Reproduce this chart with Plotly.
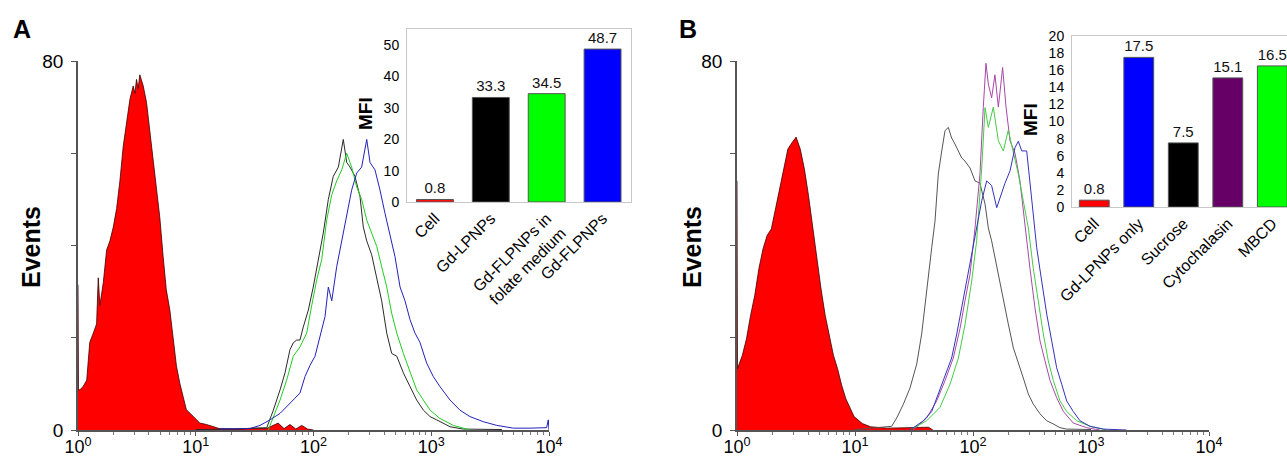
import plotly.graph_objects as go

W, H = 1287, 458
FONT = "Arial, 'Liberation Sans', sans-serif"

# ---------------- Panel A histograms (x in decades: log10 fluorescence) ----------------
a_red_log = [0.0, 0.004, 0.017, 0.045, 0.074, 0.10, 0.13, 0.158, 0.172, 0.186, 0.215, 0.243, 0.271, 0.30,
             0.328, 0.356, 0.384, 0.412, 0.441, 0.469, 0.483, 0.497, 0.511, 0.525, 0.54, 0.554, 0.582,
             0.61, 0.638, 0.667, 0.695, 0.723, 0.75, 0.78, 0.81, 0.836, 0.864, 0.89, 0.92, 0.977,
             1.034, 1.09, 1.147, 1.2, 1.35, 1.5, 1.6, 1.7, 1.75, 1.8, 1.85, 1.9, 1.95, 2.0]
a_red_cnt = [31.5, 8.7, 8.7, 9.5, 10.8, 19, 21, 23, 33, 27, 32, 39, 41, 44,
             48, 54, 61.5, 66, 71.7, 74.6, 73, 76, 74, 77, 75.5, 74.6, 71,
             64.5, 58.6, 51.4, 46, 37.6, 30.4, 26, 19, 13.9, 10.2, 7.4, 4.4, 3,
             1.5, 1.2, 0.8, 0.3, 0.2, 0.4, 0.3, 1.5, 0.3, 1.2, 0.2, 1.0, 0.2, 0]

a_blk_log = [1.0, 1.3, 1.603, 1.659, 1.716, 1.758, 1.80, 1.828, 1.857, 1.885, 1.913, 1.956, 1.998, 2.041,
             2.083, 2.126, 2.168, 2.211, 2.253, 2.282, 2.31, 2.352, 2.395, 2.423, 2.452, 2.494, 2.537,
             2.579, 2.622, 2.664, 2.707, 2.763, 2.82, 2.876, 2.933, 2.99, 3.046, 3.16, 3.272, 3.6]
a_blk_cnt = [0.1, 0.2, 0.5, 4.3, 8.7, 12.4, 17.4, 18.9, 19.5, 19.5, 22.3, 26, 31, 36.9,
             42.7, 50, 55, 57, 63, 58, 57, 55, 50.6, 44, 41, 38, 33,
             28, 21, 16.6, 16, 12.4, 9.4, 6.5, 4.3, 2.9, 2.2, 0.7, 0.2, 0.1]

a_grn_log = [1.616, 1.659, 1.716, 1.772, 1.828, 1.885, 1.942, 1.985, 2.027, 2.07, 2.112, 2.155, 2.197,
             2.24, 2.282, 2.324, 2.367, 2.409, 2.452, 2.494, 2.537, 2.579, 2.622, 2.664, 2.707, 2.763,
             2.82, 2.876, 2.933, 2.99, 3.074, 3.187, 3.329]
a_grn_cnt = [0, 2.9, 6.5, 10.8, 16, 18, 21, 27, 32.5, 37, 45.5, 51, 54,
             56.4, 60, 57, 52.7, 50, 45.5, 42.7, 39.8, 35.4, 31, 25.3, 21, 16.6,
             12.4, 8.7, 6.5, 4.3, 2.5, 1, 0]

a_blu_log = [1.2, 1.461, 1.546, 1.631, 1.716, 1.772, 1.828, 1.885, 1.928, 1.97, 2.013, 2.055, 2.098, 2.126,
             2.155, 2.197, 2.24, 2.282, 2.324, 2.367, 2.409, 2.452, 2.48, 2.522, 2.565, 2.607, 2.65,
             2.692, 2.735, 2.777, 2.82, 2.862, 2.904, 2.961, 3.017, 3.074, 3.159, 3.244, 3.329, 3.442,
             3.556, 3.697, 3.839, 3.98, 3.994, 4.0]
a_blu_cnt = [0.2, 0.3, 1, 2.2, 3.6, 5, 6.5, 8, 11.6, 14, 16, 20, 24.6, 31,
             28, 35.4, 41, 47, 52, 55.7, 57, 63, 58, 56.4, 52, 47, 42,
             37.6, 31, 28, 23.9, 21, 19, 14.5, 11.6, 9.4, 6.5, 4.3, 2.9, 1.8,
             1, 0.4, 0.4, 0.5, 2.2, 0]

# ---------------- Panel B histograms ----------------
b_red_log = [0.0, 0.004, 0.0456, 0.0806, 0.1157, 0.1507, 0.1858, 0.2209, 0.2559, 0.291, 0.326, 0.361,
             0.396, 0.431, 0.466, 0.501, 0.536, 0.571, 0.606, 0.642, 0.677, 0.712, 0.747, 0.782, 0.817,
             0.852, 0.887, 0.922, 0.957, 0.992, 1.062, 1.132, 1.273, 1.45, 1.623, 1.66]
b_red_cnt = [54, 13.3, 16.2, 19.8, 24.9, 29.2, 35, 39.3, 42.2, 43.6, 47.9, 52.3,
             56.6, 60.9, 62.3, 63.5, 60.9, 56.6, 50.8, 43.6, 37.1, 30.6, 24.9, 20.5, 16.2,
             13.3, 9.7, 6.8, 4.7, 2.9, 1.4, 0.7, 0.4, 0.5, 0.6, 0]

b_blk_log = [1.0, 1.2, 1.311, 1.353, 1.41, 1.466, 1.523, 1.565, 1.593, 1.621, 1.65, 1.678, 1.706, 1.735,
             1.763, 1.791, 1.819, 1.847, 1.876, 1.904, 1.932, 1.975, 2.017, 2.059, 2.102, 2.13, 2.158,
             2.186, 2.215, 2.257, 2.299, 2.342, 2.384, 2.426, 2.469, 2.511, 2.568, 2.625, 2.681, 2.737,
             2.794, 3.0]
b_blk_cnt = [0.1, 0.5, 0.8, 2.6, 5.6, 9.1, 14.3, 20.8, 27.3, 33.8, 39.5, 45.3, 55.5, 60.5,
             64.9, 65.6, 63.3, 62, 60.5, 59, 58.3, 56.8, 54, 53.5, 49, 43.8, 41,
             37.3, 33.8, 28, 23, 17.8, 14.3, 11.3, 7.8, 5.6, 3.5, 2, 1.3, 0.5,
             0.2, 0.1]

b_blu_log = [1.466, 1.579, 1.65, 1.706, 1.763, 1.819, 1.862, 1.904, 1.947, 1.989, 2.031, 2.074, 2.116,
             2.158, 2.201, 2.229, 2.271, 2.314, 2.356, 2.384, 2.413, 2.455, 2.483, 2.511, 2.54, 2.582,
             2.625, 2.667, 2.709, 2.752, 2.794, 2.85, 2.907, 2.992, 3.104, 3.3]
b_blu_cnt = [0, 2, 4, 7.8, 12, 15.6, 20.8, 26.5, 32.3, 37.3, 43.8, 49.7, 54,
             53, 48.2, 50.4, 53.5, 56.2, 61.2, 62.6, 60.5, 60.5, 54, 46.8, 39.5, 32.3,
             25.1, 19.3, 13.5, 9.9, 6.3, 4, 2, 0.8, 0.2, 0]

b_mag_log = [1.494, 1.607, 1.692, 1.763, 1.833, 1.89, 1.932, 1.975, 2.017, 2.059, 2.087, 2.11, 2.13,
             2.158, 2.186, 2.215, 2.251, 2.28, 2.314, 2.356, 2.398, 2.441, 2.483, 2.525, 2.568, 2.61,
             2.653, 2.709, 2.766, 2.85, 2.964, 3.076]
b_mag_cnt = [0, 2.6, 6.3, 10.7, 15.6, 22, 28, 33.8, 43.8, 55.5, 69.9, 79.5, 75,
             72, 77, 70, 78.6, 70, 62.7, 60, 54, 43.8, 35, 26.5, 19.3, 15,
             10.7, 7, 4, 1.5, 0.5, 0]

b_grn_log = [1.466, 1.607, 1.72, 1.805, 1.876, 1.932, 1.989, 2.031, 2.074, 2.102, 2.13, 2.172, 2.215,
             2.257, 2.299, 2.342, 2.384, 2.426, 2.469, 2.511, 2.554, 2.596, 2.638, 2.681, 2.737, 2.794,
             2.879, 2.992, 3.133]
b_grn_cnt = [0, 2, 4.9, 9.9, 15.6, 22.8, 32.3, 41, 56.8, 69.9, 65.6, 70, 62.7,
             60.5, 65, 60, 55.5, 49.7, 43.8, 35, 27.8, 20.8, 15, 10.7, 6.3, 4,
             2, 0.8, 0]

# ---------------- Inset bar charts ----------------
a_cats = ["Cell", "Gd-LPNPs", "Gd-FLPNPs in<br>folate medium", "Gd-FLPNPs"]
a_mfi = [0.8, 33.3, 34.5, 48.7]
a_colors = ["#ff1010", "#000000", "#00ff00", "#0000ff"]

b_cats = ["Cell", "Gd-LPNPs only", "Sucrose", "Cytochalasin", "MBCD"]
b_mfi = [0.8, 17.5, 7.5, 15.1, 16.5]
b_colors = ["#ff0000", "#0000ff", "#000000", "#660066", "#00ff00"]

hist_ticks = [1, 10, 100, 1000, 10000]
hist_ticktext = ["10<sup>0</sup>", "10<sup>1</sup>", "10<sup>2</sup>", "10<sup>3</sup>", "10<sup>4</sup>"]
count_ticks = [0, 80]
count_minor = [20, 40, 60]


def fl(v):
    return [10 ** x for x in v]


fig = go.Figure()

# Panel A traces
fig.add_trace(go.Scatter(x=fl(a_red_log), y=a_red_cnt, mode="lines", fill="tozeroy",
                         fillcolor="#ff0000", line=dict(color="#3a0000", width=0.8),
                         xaxis="x", yaxis="y", showlegend=False))
fig.add_trace(go.Scatter(x=fl(a_blk_log), y=a_blk_cnt, mode="lines",
                         line=dict(color="#2a2a2a", width=1), xaxis="x", yaxis="y", showlegend=False))
fig.add_trace(go.Scatter(x=fl(a_grn_log), y=a_grn_cnt, mode="lines",
                         line=dict(color="#22cc22", width=1), xaxis="x", yaxis="y", showlegend=False))
fig.add_trace(go.Scatter(x=fl(a_blu_log), y=a_blu_cnt, mode="lines",
                         line=dict(color="#2222bb", width=1), xaxis="x", yaxis="y", showlegend=False))

# Panel A inset
fig.add_trace(go.Bar(x=a_cats, y=a_mfi, marker=dict(color=a_colors, line=dict(color="#555555", width=1)),
                     width=0.66, text=a_mfi, texttemplate="%{y:.1f}", textposition="outside",
                     textfont=dict(size=15, color="#111111", family=FONT), cliponaxis=False,
                     xaxis="x2", yaxis="y2", showlegend=False))

# Panel B traces
fig.add_trace(go.Scatter(x=fl(b_red_log), y=b_red_cnt, mode="lines", fill="tozeroy",
                         fillcolor="#ff0000", line=dict(color="#3a0000", width=0.8),
                         xaxis="x3", yaxis="y3", showlegend=False))
fig.add_trace(go.Scatter(x=fl(b_blk_log), y=b_blk_cnt, mode="lines",
                         line=dict(color="#555555", width=1), xaxis="x3", yaxis="y3", showlegend=False))
fig.add_trace(go.Scatter(x=fl(b_mag_log), y=b_mag_cnt, mode="lines",
                         line=dict(color="#a848a8", width=1), xaxis="x3", yaxis="y3", showlegend=False))
fig.add_trace(go.Scatter(x=fl(b_grn_log), y=b_grn_cnt, mode="lines",
                         line=dict(color="#44cc44", width=1), xaxis="x3", yaxis="y3", showlegend=False))
fig.add_trace(go.Scatter(x=fl(b_blu_log), y=b_blu_cnt, mode="lines",
                         line=dict(color="#3333bb", width=1), xaxis="x3", yaxis="y3", showlegend=False))

# Panel B inset
fig.add_trace(go.Bar(x=b_cats, y=b_mfi, marker=dict(color=b_colors, line=dict(color="#555555", width=1)),
                     width=0.67, text=b_mfi, texttemplate="%{y:.1f}", textposition="outside",
                     textfont=dict(size=15, color="#111111", family=FONT), cliponaxis=False,
                     xaxis="x4", yaxis="y4", showlegend=False))

minor_vals = [m * 10 ** d for d in range(4) for m in range(2, 10)]


def hist_x(domain, anchor):
    return dict(type="log", range=[0, 4], domain=domain, anchor=anchor, automargin=False,
                showline=True, linecolor="#555555", linewidth=1.5,
                ticks="outside", ticklen=4, tickcolor="#555555", tickwidth=1,
                tickmode="array", tickvals=hist_ticks, ticktext=hist_ticktext,
                tickfont=dict(size=18, color="#000000", family=FONT), ticklabelstandoff=-4,
                minor=dict(ticks="outside", ticklen=3, tickcolor="#777777", tickmode="array",
                           tickvals=minor_vals),
                showgrid=False, zeroline=False, fixedrange=True)


def hist_y(domain, anchor):
    return dict(range=[0, 80], domain=domain, anchor=anchor, automargin=False,
                showline=True, linecolor="#555555", linewidth=1.5,
                ticks="outside", ticklen=5, tickcolor="#555555",
                tickmode="array", tickvals=count_ticks,
                minor=dict(ticks="outside", ticklen=5, tickcolor="#555555", tickmode="array",
                           tickvals=count_minor),
                tickfont=dict(size=19, color="#000000", family=FONT), ticklabelstandoff=4,
                showgrid=False, zeroline=False, fixedrange=True)


def inset_x(domain, anchor, rng):
    return dict(domain=domain, anchor=anchor, range=rng, type="category", automargin=False,
                showline=True, linecolor="#c8c8c8", linewidth=1, mirror=True,
                ticks="", tickangle=-45, tickfont=dict(size=16, color="#000000", family=FONT),
                showgrid=False, zeroline=False, fixedrange=True)


def inset_y(domain, anchor, rng, dtick):
    return dict(domain=domain, anchor=anchor, range=rng, dtick=dtick, tick0=0, automargin=False,
                showline=True, linecolor="#c8c8c8", linewidth=1, mirror=True,
                ticks="", tickfont=dict(size=14, color="#000000", family=FONT), ticklabelstandoff=4,
                showgrid=False, zeroline=False, fixedrange=True)


hy = [1 - 430 / H, 1 - 61 / H]
fig.update_layout(
    width=W, height=H, autosize=False,
    margin=dict(l=0, r=0, t=0, b=0, pad=0),
    paper_bgcolor="white", plot_bgcolor="rgba(0,0,0,0)",
    font=dict(family=FONT, color="#000000"),
    bargap=0.3,
    xaxis=hist_x([78 / W, 549 / W], "y"),
    yaxis=hist_y(hy, "x"),
    xaxis2=inset_x([407 / W, 630.5 / W], "y2", [-0.5, 3.5]),
    yaxis2=inset_y([1 - 202 / H, 1 - 29.3 / H], "x2", [0, 55], 10),
    xaxis3=hist_x([737 / W, 1209 / W], "y3"),
    yaxis3=hist_y(hy, "x3"),
    xaxis4=inset_x([1072 / W, 1.0], "y4", [-0.5, 4.33]),
    yaxis4=inset_y([1 - 207 / H, 1 - 36 / H], "x4", [0, 20], 2),
)

ann = [
    dict(text="<b>A</b>", x=22 / W, y=1 - 29 / H, font=dict(size=25)),
    dict(text="<b>B</b>", x=688 / W, y=1 - 29 / H, font=dict(size=25)),
    dict(text="<b>Events</b>", x=31 / W, y=1 - 247 / H, textangle=-90, font=dict(size=25)),
    dict(text="<b>Events</b>", x=692 / W, y=1 - 247 / H, textangle=-90, font=dict(size=25)),
    dict(text="<b>MFI</b>", x=366 / W, y=1 - 113 / H, textangle=-90, font=dict(size=19)),
    dict(text="<b>MFI</b>", x=1031 / W, y=1 - 120 / H, textangle=-90, font=dict(size=19)),
]
for a in ann:
    a.update(xref="paper", yref="paper", showarrow=False, xanchor="center", yanchor="middle")
    a["font"].update(family=FONT, color="#000000")
fig.update_layout(annotations=ann)

fig.write_html("out.html",
               config={"displayModeBar": False},
               post_script="document.body.style.margin='0px';"
                           "document.body.style.padding='0px';"
                           "document.body.style.overflow='hidden';")
